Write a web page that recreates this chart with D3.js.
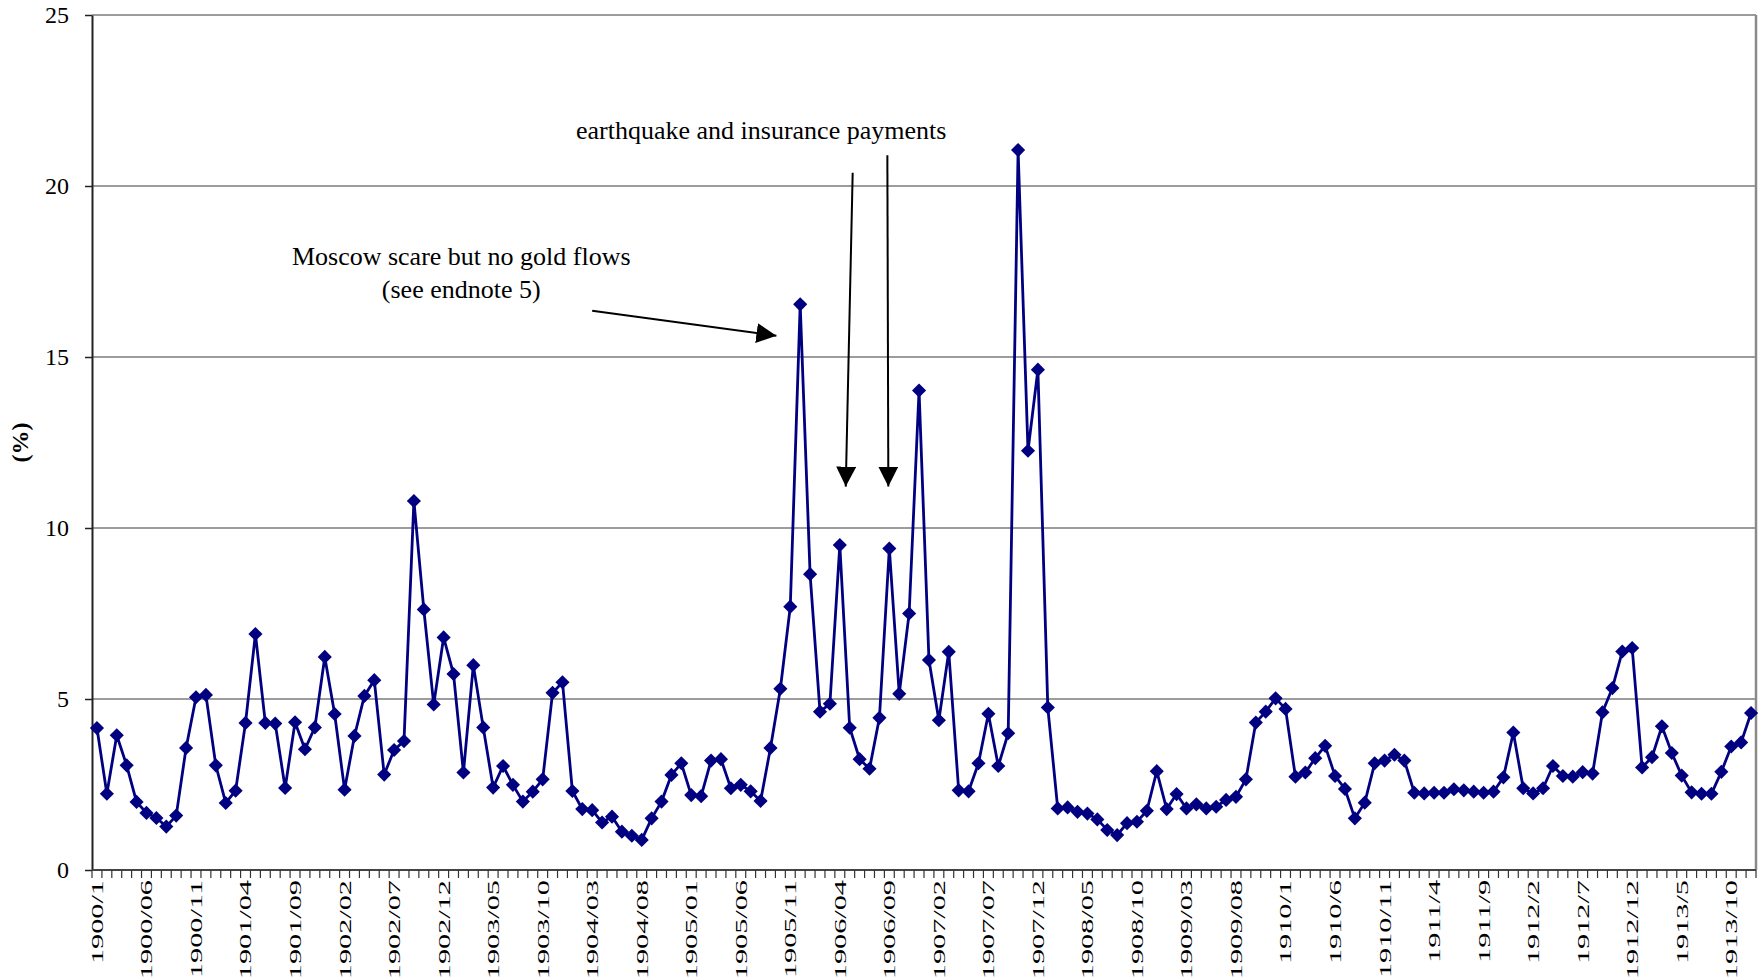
<!DOCTYPE html>
<html>
<head>
<meta charset="utf-8">
<script src="https://cdn.jsdelivr.net/npm/d3@7/dist/d3.min.js"></script>
<style>
  html, body { margin: 0; padding: 0; background: #fff; }
  svg { display: block; }
  text { font-family: "Liberation Serif", "Times New Roman", serif; }
</style>
</head>
<body>
<svg id="chart" width="1759" height="978"></svg>
<script>
// Monthly series, January 1900 to December 1913 (%)
const years = d3.range(1900, 1914);
const months = d3.range(1, 13);

const values = [
  4.15, 2.23, 3.94, 3.06, 1.99, 1.67, 1.52, 1.27, 1.59, 3.57, 5.05, 5.12,
  3.06, 1.96, 2.32, 4.30, 6.90, 4.30, 4.28, 2.40, 4.32, 3.53, 4.17, 6.23,
  4.56, 2.35, 3.92, 5.09, 5.55, 2.79, 3.51, 3.77, 10.79, 7.62, 4.84, 6.80,
  5.73, 2.85, 5.99, 4.17, 2.41, 3.04, 2.49, 2.00, 2.29, 2.65, 5.18, 5.49,
  2.31, 1.78, 1.75, 1.39, 1.56, 1.12, 1.00, 0.88, 1.51, 2.00, 2.78, 3.12,
  2.19, 2.16, 3.20, 3.24, 2.39, 2.49, 2.30, 2.02, 3.57, 5.30, 7.70, 16.54,
  8.65, 4.63, 4.86, 9.50, 4.16, 3.24, 2.96, 4.45, 9.40, 5.15, 7.50, 14.02,
  6.14, 4.38, 6.38, 2.33, 2.30, 3.12, 4.57, 3.04, 4.00, 21.05, 12.26, 14.63,
  4.75, 1.80, 1.83, 1.70, 1.65, 1.48, 1.17, 1.02, 1.37, 1.41, 1.73, 2.89,
  1.78, 2.22, 1.80, 1.92, 1.80, 1.85, 2.05, 2.14, 2.65, 4.31, 4.63, 5.02,
  4.71, 2.73, 2.85, 3.27, 3.63, 2.75, 2.37, 1.51, 1.97, 3.12, 3.20, 3.37,
  3.20, 2.26, 2.24, 2.26, 2.26, 2.36, 2.33, 2.29, 2.26, 2.29, 2.71, 4.02,
  2.39, 2.24, 2.39, 3.04, 2.75, 2.73, 2.86, 2.82, 4.61, 5.32, 6.39, 6.49,
  3.00, 3.30, 4.20, 3.42, 2.76, 2.27, 2.23, 2.23, 2.87, 3.61, 3.73, 4.59
];

// Category labels shown on the axis (every fifth month)
const tickLabels = [
  "1900/1", "1900/06", "1900/11", "1901/04", "1901/09", "1902/02", "1902/07",
  "1902/12", "1903/05", "1903/10", "1904/03", "1904/08", "1905/01", "1905/06",
  "1905/11", "1906/04", "1906/09", "1907/02", "1907/07", "1907/12", "1908/05",
  "1908/10", "1909/03", "1909/08", "1910/1", "1910/6", "1910/11", "1911/4",
  "1911/9", "1912/2", "1912/7", "1912/12", "1913/5", "1913/10"
];
const labelStep = 5;

const yTicks = [0, 5, 10, 15, 20, 25];

// Annotation texts, anchored in (month index, value) units
const notes = [
  { text: "earthquake and insurance payments", at: [67.06, 21.37] },
  { text: "Moscow scare but no gold flows", at: [36.78, 17.69] },
  { text: "(see endnote 5)", at: [36.78, 16.73] }
];
// Arrows: from -> to, same units
const arrows = [
  { from: [50.0, 16.35], to: [68.6, 15.62] },
  { from: [76.3, 20.39], to: [75.6, 11.21] },
  { from: [79.8, 20.90], to: [79.9, 11.21] }
];

const categories = years.flatMap(y => months.map(m => `${y}/${m}`));
const data = categories.map((c, i) => ({ c, i, v: values[i] }));

const svg = d3.select("#chart");
const W = 1759, H = 978;
const plot = { left: 92, right: 1756, top: 15, bottom: 870 };
const serif = "'Liberation Serif', 'Times New Roman', serif";

svg.append("rect").attr("width", W).attr("height", H).attr("fill", "#fff");

// Category scale (band) and a continuous index scale sharing the same positions
const xBand = d3.scaleBand().domain(categories).range([plot.left, plot.right]);
const xi = d3.scaleLinear()
  .domain([-0.5, categories.length - 0.5])
  .range([plot.left, plot.right]);
const y = d3.scaleLinear().domain([0, 25]).range([plot.bottom, plot.top]);
const cx = c => xBand(c) + xBand.bandwidth() / 2;

// Horizontal gridlines
svg.append("g")
  .selectAll("line")
  .data(yTicks.filter(t => t > 0))
  .join("line")
  .attr("x1", plot.left).attr("x2", plot.right)
  .attr("y1", d => y(d)).attr("y2", d => y(d))
  .attr("stroke", "#3a3a3a").attr("stroke-width", 1.2);

// Right border of the plot area
svg.append("line")
  .attr("x1", plot.right).attr("x2", plot.right)
  .attr("y1", y(25)).attr("y2", y(0))
  .attr("stroke", "#8a8a8a").attr("stroke-width", 2.5);

// Y axis
const yAxis = svg.append("g")
  .attr("transform", `translate(${plot.left},0)`)
  .attr("font-family", serif)
  .call(d3.axisLeft(y).tickValues(yTicks).tickSize(7).tickPadding(16).tickSizeOuter(0));
yAxis.attr("font-family", serif);
yAxis.select(".domain").attr("stroke", "#222").attr("stroke-width", 2);
yAxis.selectAll(".tick line").attr("stroke", "#222").attr("stroke-width", 1.5);
yAxis.selectAll(".tick text")
  .attr("font-size", 24)
  .attr("font-family", serif)
  .attr("fill", "#000");

// X axis: tick marks on every category boundary
const xAxis = svg.append("g").attr("font-family", serif);
xAxis.append("line")
  .attr("x1", plot.left).attr("x2", plot.right)
  .attr("y1", plot.bottom).attr("y2", plot.bottom)
  .attr("stroke", "#444").attr("stroke-width", 2);
xAxis.selectAll("line.tk")
  .data(d3.range(categories.length + 1))
  .join("line")
  .attr("class", "tk")
  .attr("x1", k => xi(k - 0.5)).attr("x2", k => xi(k - 0.5))
  .attr("y1", plot.bottom).attr("y2", plot.bottom + 8)
  .attr("stroke", "#333").attr("stroke-width", 1.2);

xAxis.selectAll("text")
  .data(tickLabels)
  .join("text")
  .attr("transform", (d, j) => `translate(${cx(categories[j * labelStep])},${plot.bottom + 10}) rotate(-90) scale(1.78,1)`)
  .attr("text-anchor", "end")
  .attr("dy", "0.35em")
  .attr("font-size", 17)
  .attr("fill", "#000")
  .text(d => d);

// Axis title
svg.append("text")
  .attr("transform", `translate(20,${(plot.top + plot.bottom) / 2}) rotate(-90)`)
  .attr("text-anchor", "middle")
  .attr("dy", "0.35em")
  .attr("font-size", 24)
  .attr("font-weight", "bold")
  .text("(%)");

// Series line
const line = d3.line().x(d => cx(d.c)).y(d => y(d.v));
svg.append("path")
  .datum(data)
  .attr("d", line)
  .attr("fill", "none")
  .attr("stroke", "#000080")
  .attr("stroke-width", 2.8)
  .attr("stroke-linejoin", "miter");

// Diamond markers
const diamond = d3.symbol().type(d3.symbolSquare).size(100);
svg.append("g")
  .selectAll("path")
  .data(data)
  .join("path")
  .attr("d", diamond)
  .attr("transform", d => `translate(${cx(d.c)},${y(d.v)}) rotate(45)`)
  .attr("fill", "#000080");

// Annotations
svg.append("defs").append("marker")
  .attr("id", "head")
  .attr("viewBox", "0 -10 20 20")
  .attr("refX", 20).attr("refY", 0)
  .attr("markerUnits", "userSpaceOnUse")
  .attr("markerWidth", 20).attr("markerHeight", 20)
  .attr("orient", "auto")
  .append("path")
  .attr("d", "M0,-10L20,0L0,10Z")
  .attr("fill", "#000");

svg.append("g")
  .selectAll("line")
  .data(arrows)
  .join("line")
  .attr("x1", d => xi(d.from[0])).attr("y1", d => y(d.from[1]))
  .attr("x2", d => xi(d.to[0])).attr("y2", d => y(d.to[1]))
  .attr("stroke", "#000").attr("stroke-width", 2)
  .attr("marker-end", "url(#head)");

svg.append("g")
  .selectAll("text")
  .data(notes)
  .join("text")
  .attr("x", d => xi(d.at[0]))
  .attr("y", d => y(d.at[1]))
  .attr("text-anchor", "middle")
  .attr("font-size", 26)
  .attr("fill", "#000")
  .text(d => d.text);
</script>
</body>
</html>
